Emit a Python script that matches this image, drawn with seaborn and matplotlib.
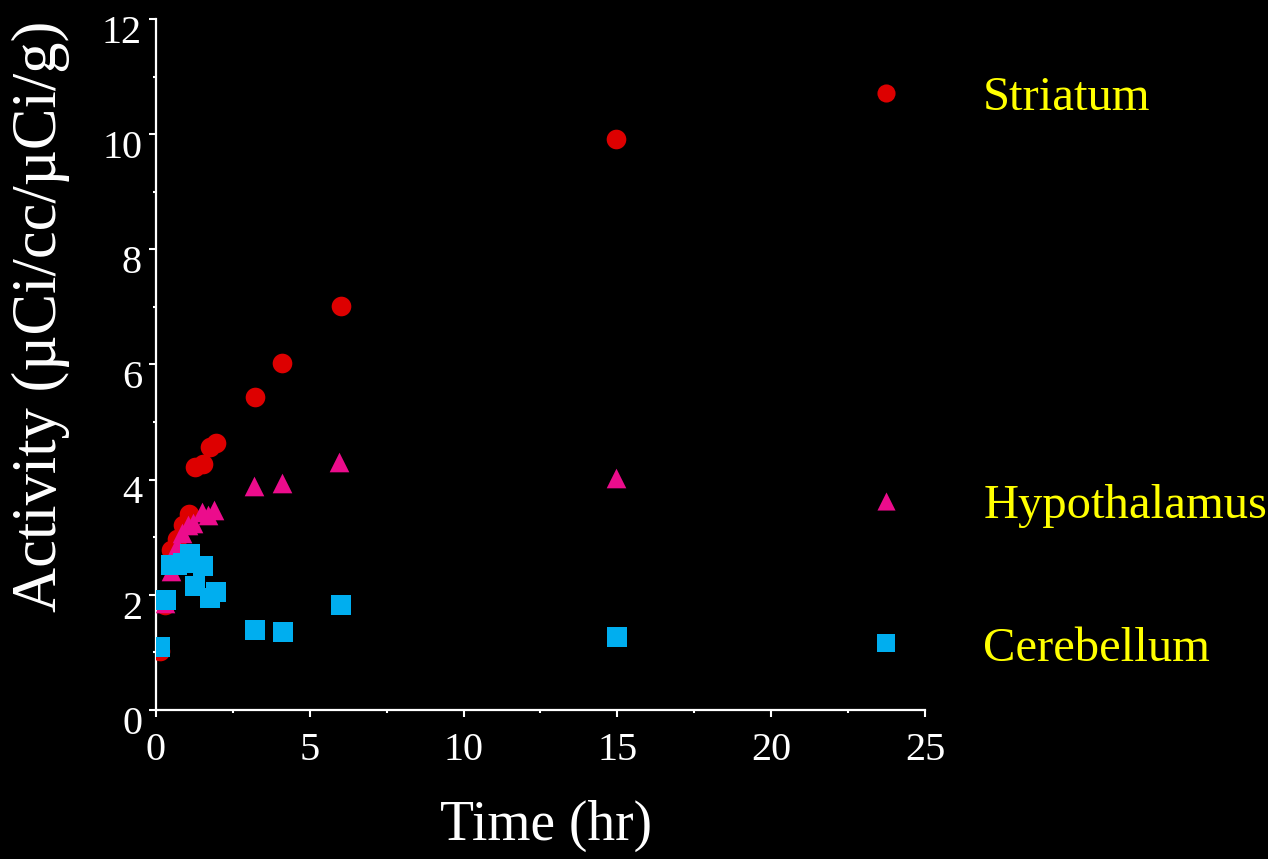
import pandas as pd
import seaborn as sns
import matplotlib.pyplot as plt
from matplotlib.ticker import MultipleLocator
from matplotlib.transforms import ScaledTranslation

# data
striatum_t = [0.13, 0.30, 0.50, 0.68, 0.87, 1.08, 1.27, 1.54, 1.76, 1.94, 3.22, 4.10, 6.00, 14.95]
striatum_v = [1.02, 1.82, 2.78, 2.97, 3.21, 3.41, 4.22, 4.27, 4.56, 4.64, 5.43, 6.02, 7.01, 9.91]

hypo_t = [0.30, 0.48, 0.68, 0.85, 1.05, 1.22, 1.51, 1.70, 1.90, 3.19, 4.09, 5.96, 14.95]
hypo_v = [1.85, 2.42, 2.85, 3.07, 3.22, 3.24, 3.44, 3.38, 3.48, 3.89, 3.95, 4.30, 4.03]

cereb_t = [0.13, 0.32, 0.50, 0.70, 0.88, 1.10, 1.27, 1.54, 1.75, 1.95, 3.22, 4.12, 6.00, 15.00]
cereb_v = [1.10, 1.91, 2.52, 2.52, 2.55, 2.71, 2.16, 2.50, 1.94, 2.05, 1.39, 1.36, 1.82, 1.27]

# key markers sit inside the plot, right of the data
key_names = ['Striatum', 'Hypothalamus', 'Cerebellum']
key_t = [23.73, 23.73, 23.73]
key_v = [10.72, 3.63, 1.16]

COLORS = {'Striatum': '#DD0000', 'Hypothalamus': '#EC0C8C', 'Cerebellum': '#00AEEF'}
MARKERS = {'Striatum': 'o', 'Hypothalamus': '^', 'Cerebellum': 's'}

sns.set_style("ticks")
plt.rcParams['font.family'] = ['Liberation Serif', 'DejaVu Serif']

fig = plt.figure(figsize=(12.68, 8.59), dpi=100, facecolor='black')
ax = fig.add_axes([0.123, 0.1735, 0.6065, 0.8044])
ax.set_facecolor('black')

series = [('Striatum', striatum_t, striatum_v),
          ('Hypothalamus', hypo_t, hypo_v),
          ('Cerebellum', cereb_t, cereb_v)]

for name, t, v in series:
    df = pd.DataFrame({'Time': t, 'Activity': v})
    sns.scatterplot(data=df, x='Time', y='Activity', ax=ax, color=COLORS[name],
                    marker=MARKERS[name], s=200, linewidth=0, legend=False, zorder=3)

for name, t, v in zip(key_names, key_t, key_v):
    ax.scatter([t], [v], color=COLORS[name], marker=MARKERS[name], s=170,
               linewidth=0, clip_on=False, zorder=3)
    ax.annotate(name, xy=(t, v), xytext=(70, -12.5), textcoords='offset points',
                color='#FFFF00', fontsize=35, va='baseline', ha='left',
                annotation_clip=False)

ax.set_xlim(0, 25)
ax.set_ylim(0, 12)
ax.xaxis.set_major_locator(MultipleLocator(5))
ax.xaxis.set_minor_locator(MultipleLocator(2.5))
ax.yaxis.set_major_locator(MultipleLocator(2))
ax.yaxis.set_minor_locator(MultipleLocator(1))

for side in ['top', 'right']:
    ax.spines[side].set_visible(False)
for side in ['left', 'bottom']:
    ax.spines[side].set_color('white')
    ax.spines[side].set_linewidth(1.6)

ax.tick_params(which='major', direction='out', length=5, width=1.5, colors='white',
               labelsize=29, labelcolor='white')
ax.tick_params(which='minor', direction='out', length=2.5, width=1.5, colors='white')
ax.tick_params(axis='x', which='major', pad=11)
ax.tick_params(axis='y', which='major', pad=5)

# y tick labels sit a little below their ticks in the original
shift = ScaledTranslation(0, -7 / 72, fig.dpi_scale_trans)
for lab in ax.get_yticklabels():
    lab.set_transform(lab.get_transform() + shift)

ax.set_xlabel('Time (hr)', color='white', fontsize=40)
ax.set_ylabel('Activity (µCi/cc/µCi/g)', color='white', fontsize=45)
ax.xaxis.set_label_coords(0.507, -0.13)
ax.yaxis.set_label_coords(-0.112, 0.57)

fig.savefig('out.png', dpi=100, facecolor='black')
